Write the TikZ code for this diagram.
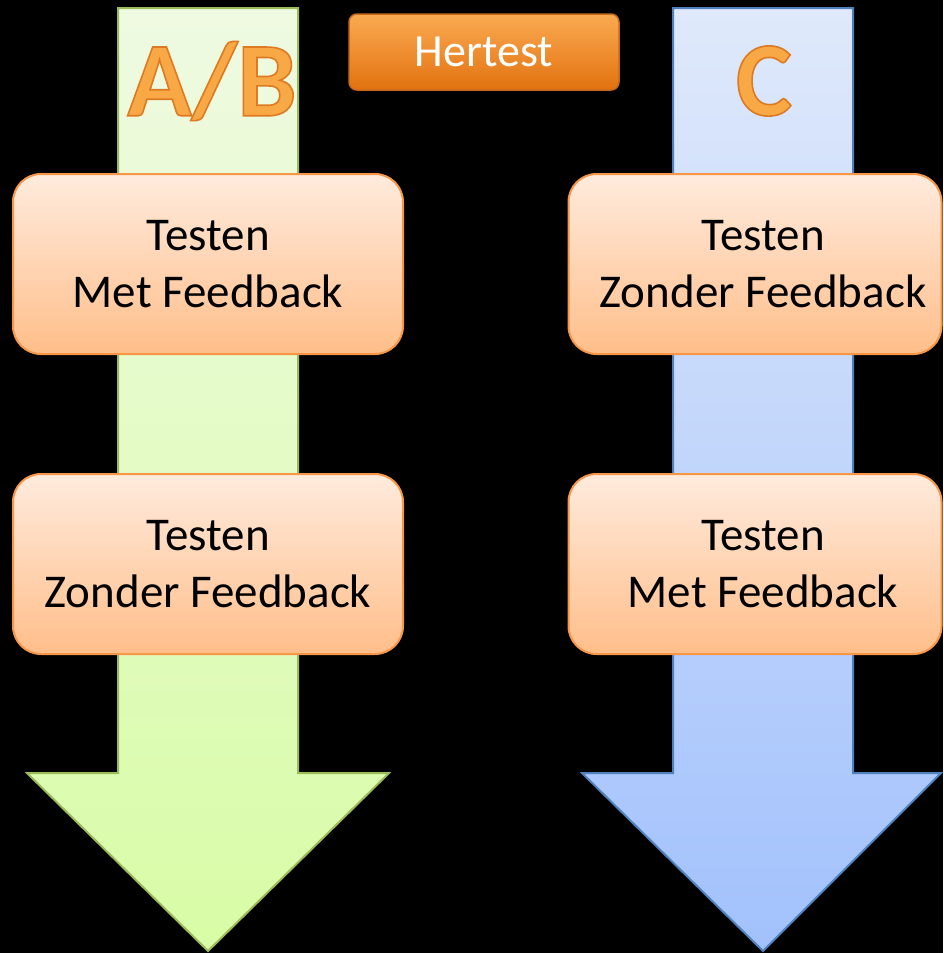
\documentclass[tikz,border=0pt]{standalone}
\usepackage{fontspec}
\setmainfont{Carlito}
\usetikzlibrary{positioning}
\definecolor{greenline}{HTML}{9BBB59}
\definecolor{greentop}{HTML}{EFFAE2}
\definecolor{greenbot}{HTML}{D8FCA6}
\definecolor{blueline}{HTML}{4F81BD}
\definecolor{bluetop}{HTML}{DFE9FB}
\definecolor{bluebot}{HTML}{A2C1FC}
\definecolor{boxline}{HTML}{F79646}
\definecolor{boxtop}{HTML}{FFEBDD}
\definecolor{boxbot}{HTML}{FFBE8A}
\definecolor{btntop}{HTML}{FAAA52}
\definecolor{btnbot}{HTML}{E2720F}
\definecolor{btnline}{HTML}{C8691E}
\definecolor{letter}{HTML}{F8A845}
% letters met een donkere rand (tekst vullen en omlijnen)
\newcommand{\omlijnd}[1]{\special{pdf:literal direct q 2 Tr 1.6 w 0.867 0.478 0.133 RG}#1\special{pdf:literal direct 0 Tr Q}}

\begin{document}
\begin{tikzpicture}[x=1pt,y=-1pt,
    arrowab/.style={draw=greenline,line width=2pt,top color=greentop,bottom color=greenbot},
    arrowc/.style={draw=blueline,line width=2pt,top color=bluetop,bottom color=bluebot},
    testbox/.style={draw=boxline,line width=2pt,rounded corners=28pt,
      top color=boxtop,bottom color=boxbot,align=center,
      minimum height=180pt,inner sep=0pt,
      font=\fontsize{47}{57.5}\selectfont},
    testtext/.style={align=center,inner sep=0pt,font=\fontsize{47}{57.5}\selectfont},
    groep/.style={text=letter,font=\fontsize{106}{106}\bfseries\selectfont},
  ]
  \fill[black] (0,0) rectangle (943,953);

  % de twee pijlen
  \draw[arrowab] (118,8) -- (298,8) -- (298,773) -- (389,773)
    -- (208,951) -- (27,773) -- (118,773) -- cycle;
  \draw[arrowc] (673,8) -- (853,8) -- (853,773) -- (941,773)
    -- (763,951) -- (582,773) -- (673,773) -- cycle;

  % kopjes
  \node[groep] (ab) at (212,81) {\omlijnd{A/B}};
  \node[groep] (c) at (764,81) {\omlijnd{C}};
  \node[draw=btnline,line width=1.5pt,rounded corners=8pt,
    top color=btntop,bottom color=btnbot,text=white,
    minimum width=270pt,minimum height=76pt,
    font=\fontsize{46}{46}\selectfont] (hertest) at (484,52) {Hertest};

  % stappen
  \node[testbox,minimum width=390pt] (ab1) at (208,264) {Testen\\Met Feedback};
  \node[testbox,minimum width=390pt] (ab2) at (208,564) {Testen\\Zonder Feedback};
  \node[testbox,minimum width=373pt] (c1) at (755,264) {};
  \node[testbox,minimum width=373pt] (c2) at (755,564) {};
  \node[testtext] (c1tekst) at ([xshift=8pt]c1.center) {Testen\\Zonder Feedback};
  \node[testtext] (c2tekst) at ([xshift=8pt]c2.center) {Testen\\Met Feedback};
\end{tikzpicture}
\end{document}
